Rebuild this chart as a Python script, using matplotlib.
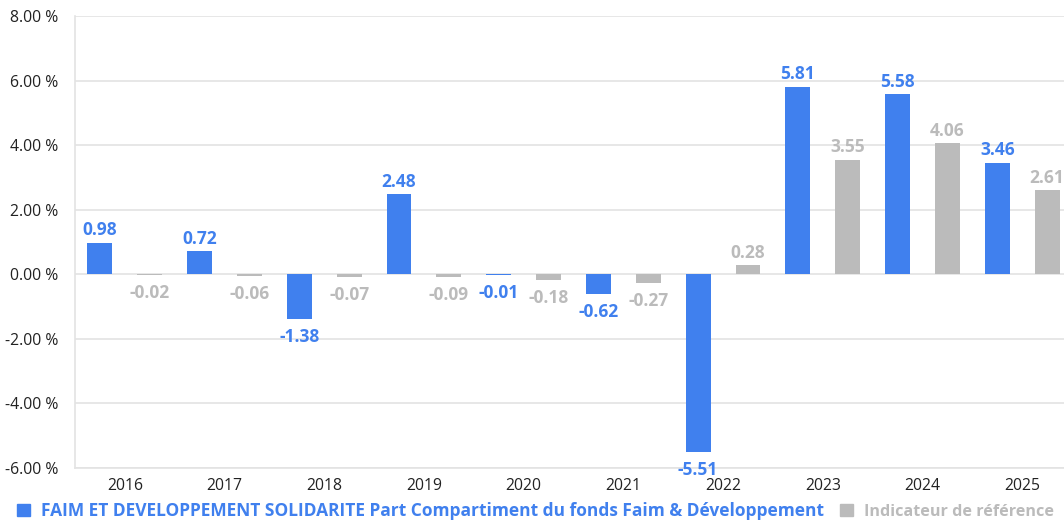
import numpy as np
import matplotlib
matplotlib.use("Agg")
import matplotlib.pyplot as plt
from matplotlib.patches import Patch
from matplotlib.ticker import FuncFormatter, MultipleLocator

years = ['2016', '2017', '2018', '2019', '2020', '2021', '2022', '2023', '2024', '2025']
fund = [0.98, 0.72, -1.38, 2.48, -0.01, -0.62, -5.51, 5.81, 5.58, 3.46]
bench = [-0.02, -0.06, -0.07, -0.09, -0.18, -0.27, 0.28, 3.55, 4.06, 2.61]
fund_name = "FAIM ET DEVELOPPEMENT SOLIDARITE Part Compartiment du fonds Faim & Développement"
bench_name = "Indicateur de référence"

BLUE = '#4080EE'
GREY = '#BBBBBB'
GRID = '#E3E3E3'

plt.rcParams['font.family'] = ['Open Sans', 'DejaVu Sans']

W, H = 1064, 522
fig = plt.figure(figsize=(W / 100, H / 100), dpi=100)
ax = fig.add_axes([75 / W, (H - 468) / H, 997 / W, 452 / H])

x = np.arange(len(years))
bw = 0.25
b1 = ax.bar(x - 0.25, fund, width=bw, color=BLUE, zorder=3)
b2 = ax.bar(x + 0.25, bench, width=bw, color=GREY, zorder=3)

ax.set_xlim(-0.5, len(years) - 0.5)
ax.set_ylim(-6, 8)
ax.yaxis.set_major_locator(MultipleLocator(2))
ax.yaxis.set_major_formatter(FuncFormatter(lambda v, p: f"{v:.2f} %"))
ax.set_xticks(x)
ax.set_xticklabels(years)
ax.tick_params(axis='both', length=0, labelsize=11.3, colors='#222222')
ax.tick_params(axis='y', pad=12)
ax.tick_params(axis='x', pad=7)
ax.grid(axis='y', color=GRID, linewidth=1.2, zorder=0)
for s in ['top', 'right']:
    ax.spines[s].set_visible(False)
for s in ['left', 'bottom']:
    ax.spines[s].set_color(GRID)
    ax.spines[s].set_linewidth(1.2)

LFS = 12.5

def label(bars, vals, color):
    for rect, v in zip(bars, vals):
        xc = rect.get_x() + rect.get_width() / 2
        if v >= 0:
            ax.annotate(f"{v:.2f}", (xc, v), xytext=(0, 2.5), textcoords='offset points',
                        ha='center', va='bottom', color=color, fontsize=LFS,
                        fontweight='bold', zorder=5, annotation_clip=False)
        else:
            ax.annotate(f"{v:.2f}", (xc, v), xytext=(0, -6.5), textcoords='offset points',
                        ha='center', va='top', color=color, fontsize=LFS,
                        fontweight='bold', zorder=5, annotation_clip=False)

label(b1, fund, BLUE)
label(b2, bench, GREY)

handles = [Patch(color=BLUE, label=fund_name), Patch(color=GREY, label=bench_name)]
leg = fig.legend(handles=handles, loc='center left', bbox_to_anchor=(17 / W, (H - 511) / H),
                 ncol=2, frameon=False, handlelength=0.75, handleheight=0.75,
                 handletextpad=0.63, columnspacing=0.92, borderpad=0, borderaxespad=0,
                 prop={'weight': 'bold', 'size': LFS}, labelcolor=[BLUE, GREY])
leg.get_texts()[1].set_fontsize(11.6)

fig.savefig('out.png', dpi=100, facecolor='white')
